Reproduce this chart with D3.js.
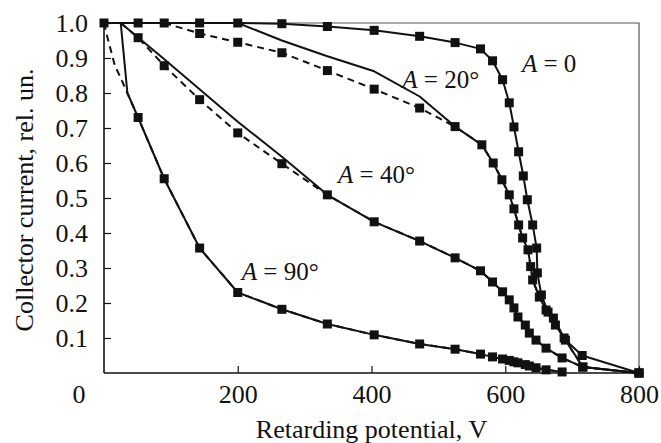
<!DOCTYPE html>
<html>
<head>
<meta charset="utf-8">
<script src="https://cdn.jsdelivr.net/npm/d3@7"></script>
<style>
  html, body { margin: 0; padding: 0; background: #fff; }
  svg text { font-family: "Liberation Serif", "DejaVu Serif", "Times New Roman", serif; fill: #111; }
</style>
</head>
<body>
<svg id="chart" width="661" height="443"></svg>
<script>
// ---- data (retarding potential V, collector current rel. un.) ----
const xTicks = [200, 400, 600, 800];
const yTicks = [0.1, 0.2, 0.3, 0.4, 0.5, 0.6, 0.7, 0.8, 0.9, 1.0];

// A = 0
const a0MarkV = [0, 51, 90, 143, 200, 266, 334, 404, 472, 525, 563, 581, 596, 606, 613, 620, 627, 633, 641, 647, 648, 654, 664, 675, 690, 715, 800];
const a0MarkI = [1, 1, 1, 1, 1, 0.998, 0.99, 0.979, 0.962, 0.944, 0.926, 0.892, 0.838, 0.772, 0.703, 0.632, 0.563, 0.495, 0.423, 0.357, 0.286, 0.223, 0.174, 0.137, 0.094, 0.05, 0];
const a0FitV = [0];
const a0FitI = [1];
const a0LeadV = [];
const a0LeadI = [];

// A = 20°
const a20MarkV = [143, 200, 266, 334, 404, 472, 525, 565, 582, 595, 606, 613, 620, 626, 634, 638, 641, 651, 661, 672, 688, 716, 800];
const a20MarkI = [0.97, 0.945, 0.915, 0.864, 0.811, 0.757, 0.704, 0.652, 0.6, 0.552, 0.509, 0.469, 0.423, 0.386, 0.352, 0.304, 0.266, 0.217, 0.18, 0.157, 0.1, 0.017, 0];
const a20FitV = [0, 200, 266, 334, 404, 472, 525];
const a20FitI = [1, 1.0, 0.95, 0.905, 0.862, 0.79, 0.704];
const a20LeadV = [90];
const a20LeadI = [1];

// A = 40°
const a40MarkV = [51, 90, 143, 200, 266, 334, 404, 472, 525, 563, 581, 596, 606, 613, 619, 630, 636, 646, 661, 685, 716, 800];
const a40MarkI = [0.958, 0.878, 0.781, 0.686, 0.598, 0.509, 0.432, 0.377, 0.329, 0.292, 0.26, 0.232, 0.209, 0.186, 0.16, 0.137, 0.114, 0.094, 0.071, 0.043, 0.017, 0];
const a40FitV = [25, 88, 200, 266, 334];
const a40FitI = [1, 0.9, 0.718, 0.618, 0.509];
const a40LeadV = [25];
const a40LeadI = [1];

// A = 90°
const a90MarkV = [51, 90, 143, 200, 266, 334, 404, 472, 525, 563, 581, 596, 606, 613, 619, 630, 636, 646, 661, 685];
const a90MarkI = [0.73, 0.555, 0.357, 0.23, 0.182, 0.14, 0.109, 0.083, 0.068, 0.054, 0.046, 0.04, 0.036, 0.032, 0.029, 0.024, 0.02, 0.015, 0.009, 0.003];
const a90FitV = [25, 35];
const a90FitI = [1, 0.8];
const a90LeadV = [0, 5, 16, 28, 36];
const a90LeadI = [1, 0.96, 0.88, 0.83, 0.795];

const labels = [
  { rest: " = 0", v: 625, i: 0.86 },
  { rest: " = 20°", v: 446, i: 0.814 },
  { rest: " = 40°", v: 350, i: 0.543 },
  { rest: " = 90°", v: 206, i: 0.266 }
];

// ---- layout ----
const margin = { left: 104, top: 23, right: 22, bottom: 70 };
const W = 661, H = 443;
const serif = '"Liberation Serif", "DejaVu Serif", "Times New Roman", serif';
const svg = d3.select("#chart");
const x = d3.scaleLinear().domain([0, 800]).range([margin.left, W - margin.right]);
const y = d3.scaleLinear().domain([0, 1]).range([H - margin.bottom, margin.top]);

const zip = (vs, is) => vs.map((v, k) => [v, is[k]]);
const series = [
  { mark: zip(a0MarkV, a0MarkI), fit: zip(a0FitV, a0FitI), lead: zip(a0LeadV, a0LeadI), dashed: false },
  { mark: zip(a20MarkV, a20MarkI), fit: zip(a20FitV, a20FitI), lead: zip(a20LeadV, a20LeadI), dashed: true },
  { mark: zip(a40MarkV, a40MarkI), fit: zip(a40FitV, a40FitI), lead: zip(a40LeadV, a40LeadI), dashed: true },
  { mark: zip(a90MarkV, a90MarkI), fit: zip(a90FitV, a90FitI), lead: zip(a90LeadV, a90LeadI), dashed: true }
];

// frame (top & right, thin gray)
svg.append("path")
  .attr("d", `M${x(0)},${y(1)}H${x(800)}V${y(0)}`)
  .attr("fill", "none").attr("stroke", "#555").attr("stroke-width", 1.2);

const line = d3.line().x(d => x(d[0])).y(d => y(d[1]));

const g = svg.append("g");
series.forEach(s => {
  const lastFit = s.fit.length ? s.fit[s.fit.length - 1][0] : -1;
  const solid = s.fit.concat(s.mark.filter(d => d[0] > lastFit));
  g.append("path").attr("d", line(solid))
    .attr("fill", "none").attr("stroke", "#111").attr("stroke-width", 2)
    .attr("stroke-linejoin", "round");
  if (s.dashed) {
    g.append("path").attr("d", line(s.lead.concat(s.mark)))
      .attr("fill", "none").attr("stroke", "#111").attr("stroke-width", 2)
      .attr("stroke-dasharray", "7,5");
  }
});
const ms = 9;
series.forEach(s => {
  g.selectAll(null).data(s.mark).enter().append("rect")
    .attr("x", d => x(d[0]) - ms / 2).attr("y", d => y(d[1]) - ms / 2)
    .attr("width", ms).attr("height", ms).attr("fill", "#111");
});

// axes
const xAxis = d3.axisBottom(x).tickValues(xTicks).tickSize(-7).tickPadding(12).tickFormat(d3.format("d"));
const gx = svg.append("g").attr("transform", `translate(0,${y(0)})`).call(xAxis);
gx.attr("font-family", serif);
gx.select(".domain").attr("stroke", "#111").attr("stroke-width", 1.6).attr("d", `M${x(0)},0H${x(800)}`);
gx.selectAll(".tick line").attr("stroke", "#111").attr("stroke-width", 1.2);
gx.selectAll(".tick text").attr("font-size", 26).attr("fill", "#111").style("font-family", serif);

const yAxis = d3.axisLeft(y).tickValues(yTicks).tickSize(-7).tickPadding(16).tickFormat(d3.format(".1f"));
const gy = svg.append("g").attr("transform", `translate(${x(0)},0)`).call(yAxis);
gy.attr("font-family", serif);
gy.select(".domain").attr("stroke", "#111").attr("stroke-width", 1.6).attr("d", `M0,${y(0)}V${y(1)}`);
gy.selectAll(".tick line").attr("stroke", "#111").attr("stroke-width", 1.2);
gy.selectAll(".tick text").attr("font-size", 26).attr("fill", "#111").style("font-family", serif);

// origin label "0"
svg.append("text").attr("x", x(0) - 25).attr("y", y(0) + 30)
  .attr("text-anchor", "middle").attr("font-size", 26).style("font-family", serif).text("0");

// axis titles
svg.append("text").attr("x", (x(0) + x(800)) / 2).attr("y", 438)
  .attr("text-anchor", "middle").attr("font-size", 26).style("font-family", serif).text("Retarding potential, V");
svg.append("text").attr("transform", `translate(33,${(y(0) + y(1)) / 2 + 2}) rotate(-90)`)
  .attr("text-anchor", "middle").attr("font-size", 26).style("font-family", serif).text("Collector current, rel. un.");

// curve labels
labels.forEach(l => {
  const t = svg.append("text").attr("x", x(l.v)).attr("y", y(l.i)).attr("font-size", 25).style("font-family", serif);
  t.append("tspan").attr("font-style", "italic").text("A");
  t.append("tspan").text(l.rest);
});
</script>
</body>
</html>
